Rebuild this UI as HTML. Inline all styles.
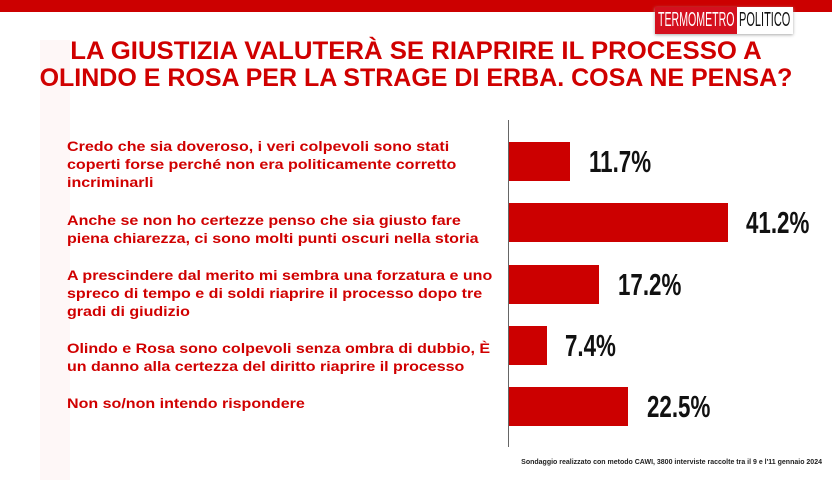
<!DOCTYPE html>
<html><head><meta charset="utf-8"><style>
*{margin:0;padding:0}
body{width:832px;height:482px;background:#fff;position:relative;overflow:hidden;font-family:"Liberation Sans",sans-serif}
.abs{position:absolute}
.lab{left:67px;color:#d00000;font-weight:bold;font-size:14.2px;line-height:18px;white-space:nowrap;transform:scaleX(1.13);transform-origin:left top}
.bar{background:#cc0000;left:509px;height:39px}
.val{font-weight:bold;font-size:31px;color:#111;transform:scaleX(0.72);transform-origin:left center;white-space:nowrap;line-height:39px}
.t{left:0;width:832px;text-align:center;color:#d00000;font-weight:bold;font-size:25px;white-space:nowrap}
</style></head><body>
<div class="abs" style="left:0;top:0;width:832px;height:12px;background:#cc0000"></div>
<div class="abs" style="left:40px;top:40px;width:30px;height:440px;background:#fef7f7"></div>
<div class="abs" style="left:655px;top:7px;width:138px;height:27px;background:#fff;box-shadow:0 1px 3px #aaa"></div>
<div class="abs" style="left:655px;top:7px;width:82px;height:27px;background:#d4101e"></div>
<div class="abs" style="left:658px;top:7px;line-height:27px;font-size:20px;color:#fff;transform:scaleX(0.53);transform-origin:left center;white-space:nowrap">TERMOMETRO</div>
<div class="abs" style="left:739px;top:7px;line-height:27px;font-size:20px;color:#111;transform:scaleX(0.55);transform-origin:left center;white-space:nowrap">POLITICO</div>
<div class="abs t" style="top:37px;transform:scaleX(1.03)">LA GIUSTIZIA VALUTERÀ SE RIAPRIRE IL PROCESSO A</div>
<div class="abs t" style="top:64px">OLINDO E ROSA PER LA STRAGE DI ERBA. COSA NE PENSA?</div>
<div class="abs" style="left:508px;top:120px;width:1px;height:327px;background:#666"></div>
<div class="abs lab" style="top:138px">Credo che sia doveroso, i veri colpevoli sono stati<br>coperti forse perché non era politicamente corretto<br>incriminarli</div>
<div class="abs lab" style="top:212px">Anche se non ho certezze penso che sia giusto fare<br>piena chiarezza, ci sono molti punti oscuri nella storia</div>
<div class="abs lab" style="top:267px">A prescindere dal merito mi sembra una forzatura e uno<br>spreco di tempo e di soldi riaprire il processo dopo tre<br>gradi di giudizio</div>
<div class="abs lab" style="top:340px">Olindo e Rosa sono colpevoli senza ombra di dubbio, È<br>un danno alla certezza del diritto riaprire il processo</div>
<div class="abs lab" style="top:395px">Non so/non intendo rispondere</div>
<div class="abs bar" style="top:142px;width:61px"></div>
<div class="abs bar" style="top:203px;width:219px"></div>
<div class="abs bar" style="top:265px;width:90px"></div>
<div class="abs bar" style="top:326px;width:38px"></div>
<div class="abs bar" style="top:387px;width:119px"></div>
<div class="abs val" style="left:589px;top:142px">11.7%</div>
<div class="abs val" style="left:746px;top:203px">41.2%</div>
<div class="abs val" style="left:618px;top:265px">17.2%</div>
<div class="abs val" style="left:565px;top:326px">7.4%</div>
<div class="abs val" style="left:647px;top:387px">22.5%</div>
<div class="abs" style="right:10px;top:459px;font-size:7px;font-weight:bold;color:#222;white-space:nowrap">Sondaggio realizzato con metodo CAWI, 3800 interviste raccolte tra il 9 e l'11 gennaio 2024</div>
</body></html>
